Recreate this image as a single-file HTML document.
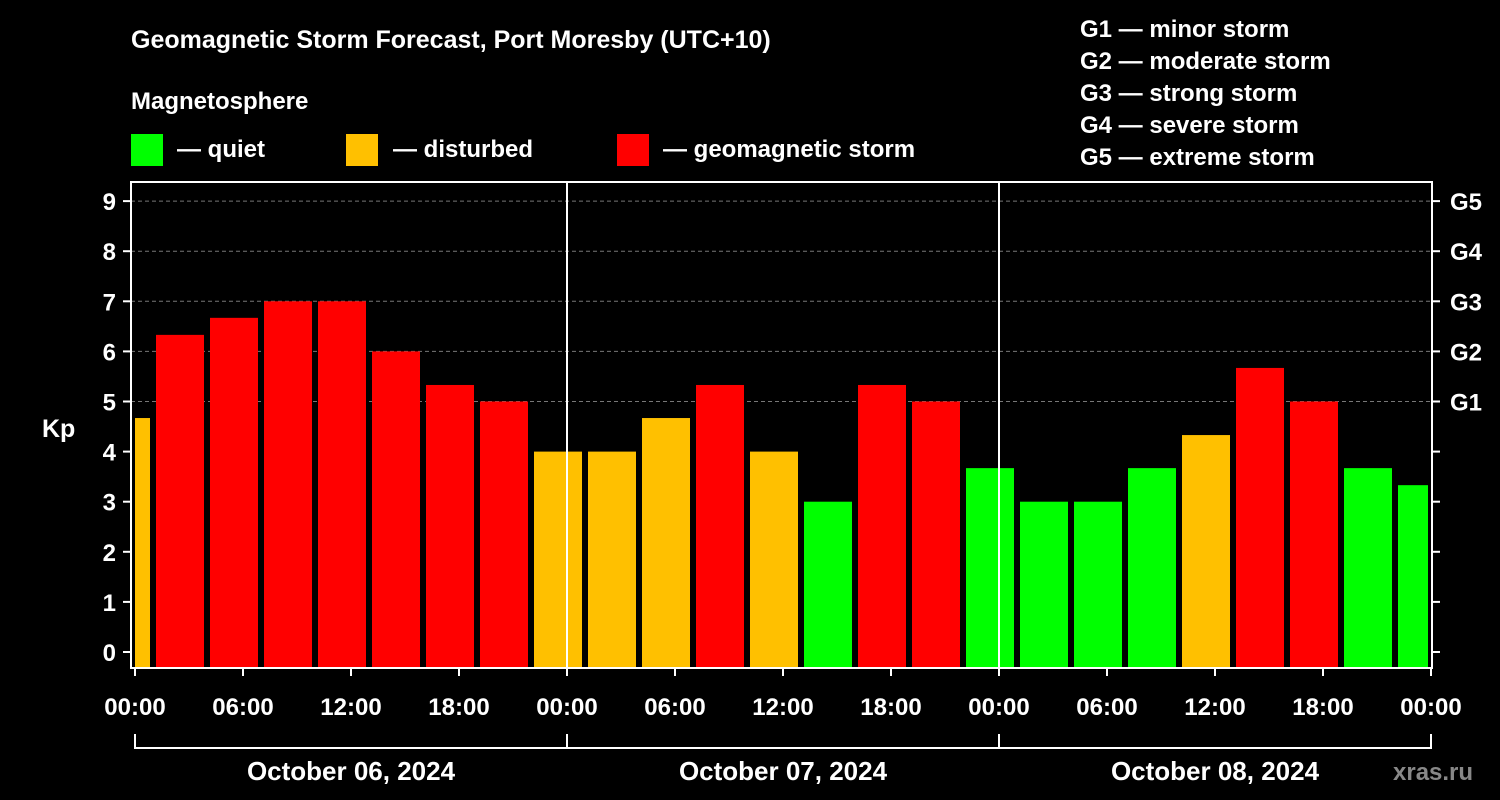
<!DOCTYPE html>
<html><head><meta charset="utf-8"><style>
html,body{margin:0;padding:0;background:#000;}
svg{display:block;font-family:"Liberation Sans",Arial,sans-serif;font-weight:bold;}
</style></head><body>
<svg width="1500" height="800" viewBox="0 0 1500 800">
<text x="131" y="48" fill="#fff" font-size="25">Geomagnetic Storm Forecast, Port Moresby (UTC+10)</text>
<text x="131" y="109" fill="#fff" font-size="24">Magnetosphere</text>
<g><rect x="131" y="134" width="32" height="32" fill="#00ff00"/><text x="177" y="157" fill="#fff" font-size="24">— quiet</text></g>
<g><rect x="346" y="134" width="32" height="32" fill="#ffc000"/><text x="393" y="157" fill="#fff" font-size="24">— disturbed</text></g>
<g><rect x="617" y="134" width="32" height="32" fill="#ff0000"/><text x="663" y="157" fill="#fff" font-size="24">— geomagnetic storm</text></g>
<g fill="#fff" font-size="24">
<text x="1080" y="37">G1 — minor storm</text><text x="1080" y="69">G2 — moderate storm</text><text x="1080" y="101">G3 — strong storm</text><text x="1080" y="133">G4 — severe storm</text><text x="1080" y="165">G5 — extreme storm</text></g>
<text x="42" y="437" fill="#fff" font-size="25">Kp</text>
<text x="1393" y="780" fill="#888" font-size="24">xras.ru</text>
<g id="plot"></g>
</svg>
<script>
const kpValues=[4.67,6.33,6.67,7,7,6,5.33,5,4,4,4.67,5.33,4,3,5.33,5,3.67,3,3,3.67,4.33,5.67,5,3.67,3.33];
const yTicks=[0,1,2,3,4,5,6,7,8,9];
const gLabels=["G1","G2","G3","G4","G5"];
const hourLabels=["00:00","06:00","12:00","18:00"];
const dayLabels=["October 06, 2024","October 07, 2024","October 08, 2024"];
const NS="http://www.w3.org/2000/svg";
const g=document.getElementById('plot');
const X0=135,PX_H=18,L=131,R=1432,T=182,B=668;
const xs=h=>X0+h*PX_H;
const ys=v=>652-v*50.1;
function mk(t,a,p){const e=document.createElementNS(NS,t);for(const k in a)e.setAttribute(k,a[k]);(p||g).appendChild(e);return e;}
// grid
yTicks.forEach(v=>{if(v>=5){const e=mk('line',{x1:L,x2:R,y1:ys(v),y2:ys(v),stroke:'#777','stroke-dasharray':'4,3'});

}});
// bars
kpValues.forEach((v,i)=>{const s=Math.max(-2+3*i,0),en=Math.min(-2+3*i+3,72);
const x1=xs(s)+(s===0?0:3),x2=xs(en)-3;
const c=v<4?'#00ff00':(v<5?'#ffc000':'#ff0000');
const r=mk('rect',{x:x1,y:ys(v),width:x2-x1,height:B-ys(v),fill:c});

});
// frame
const f=mk('rect',{x:L,y:T,width:R-L,height:B-T,fill:'none',stroke:'#fff','stroke-width':2});


[24,48].forEach(h=>{const l=mk('line',{x1:xs(h),x2:xs(h),y1:T,y2:B,stroke:'#fff','stroke-width':2});

});
// y ticks
yTicks.forEach(v=>{mk('line',{x1:L-8,x2:L,y1:ys(v),y2:ys(v),stroke:'#fff','stroke-width':2});
mk('line',{x1:R,x2:R+8,y1:ys(v),y2:ys(v),stroke:'#fff','stroke-width':2});
const t=mk('text',{x:116,y:ys(v)+9,fill:'#fff','font-size':24,'text-anchor':'end'});t.textContent=v;

});
gLabels.forEach((s,i)=>{const t=mk('text',{x:1450,y:ys(5+i)+9,fill:'#fff','font-size':24});t.textContent=s;

});
// x ticks
for(let h=0;h<=72;h+=6){mk('line',{x1:xs(h),x2:xs(h),y1:B,y2:B+8,stroke:'#fff','stroke-width':2});
const t=mk('text',{x:xs(h),y:715,fill:'#fff','font-size':24,'text-anchor':'middle'});t.textContent=hourLabels[(h/6)%4];

}
// day brackets
mk('line',{x1:xs(0),x2:xs(72),y1:748,y2:748,stroke:'#fff','stroke-width':2});
for(let d=0;d<=3;d++)mk('line',{x1:xs(24*d),x2:xs(24*d),y1:734,y2:749,stroke:'#fff','stroke-width':2});
dayLabels.forEach((s,d)=>{const t=mk('text',{x:xs(24*d+12),y:780,fill:'#fff','font-size':26,'text-anchor':'middle'});t.textContent=s;

});
</script>
</body></html>
